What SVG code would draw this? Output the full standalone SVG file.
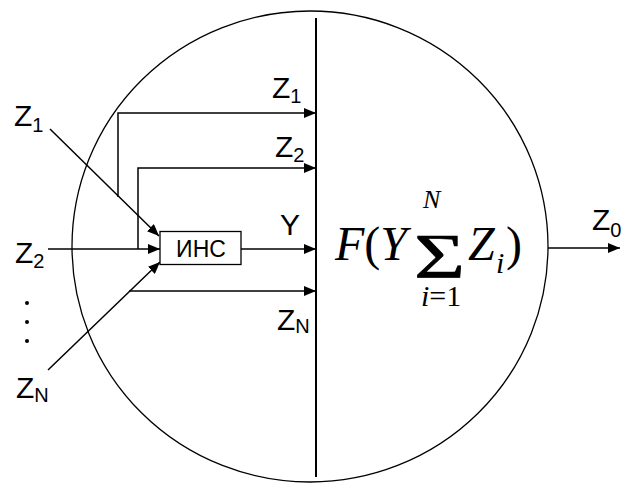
<svg xmlns="http://www.w3.org/2000/svg" width="624" height="484" viewBox="0 0 624 484">
<style>
.ln{fill:none;stroke:#000;stroke-width:1.5}
.lbl{font-family:"Liberation Sans",Arial,sans-serif;font-size:30px;fill:#000}
.sub{font-size:20px}
.math{font-family:"Liberation Serif","Times New Roman",serif;fill:#000}
</style>
<defs>
<marker id="ah" viewBox="0 0 12 10" refX="12" refY="5" markerWidth="12" markerHeight="10" markerUnits="userSpaceOnUse" orient="auto">
<path d="M0,0 L12,5 L0,10 Z" fill="#000"/>
</marker>
</defs>
<rect width="624" height="484" fill="#fff"/>
<g id="neuron">
<ellipse cx="310" cy="246.5" rx="238" ry="235.5" fill="none" stroke="#000" stroke-width="1.3"/>
<line x1="316" y1="18" x2="316" y2="477" stroke="#000" stroke-width="2"/>
</g>
<g id="connectors">
<path class="ln" d="M118,197 V113 H316" marker-end="url(#ah)"/>
<path class="ln" d="M138,249 V168 H316" marker-end="url(#ah)"/>
<path class="ln" d="M48,249 H160" marker-end="url(#ah)"/>
<path class="ln" d="M50,129 L159,236" marker-end="url(#ah)"/>
<path class="ln" d="M48,370 L160,262" marker-end="url(#ah)"/>
<path class="ln" d="M129,291 H316" marker-end="url(#ah)"/>
<path class="ln" d="M241,249 H316" marker-end="url(#ah)"/>
<path class="ln" d="M548,248 H620" marker-end="url(#ah)"/>
</g>
<g id="ins">
<rect x="160" y="231.5" width="81" height="33" fill="#fff" stroke="#000" stroke-width="1.3"/>
<text x="201" y="257" text-anchor="middle" class="lbl" style="font-size:23px">ИНС</text>
</g>
<g id="labels-in">
<text x="14" y="126" class="lbl">Z<tspan class="sub" dy="6">1</tspan></text>
<text x="15" y="263" class="lbl">Z<tspan class="sub" dy="5">2</tspan></text>
<text x="16" y="398" class="lbl">Z<tspan class="sub" dy="4">N</tspan></text>
<circle cx="27" cy="303" r="2" fill="#000"/>
<circle cx="27" cy="322" r="2" fill="#000"/>
<circle cx="27" cy="341" r="2" fill="#000"/>
</g>
<g id="labels-out">
<text x="272" y="98" class="lbl">Z<tspan class="sub" dy="5">1</tspan></text>
<text x="275" y="157" class="lbl">Z<tspan class="sub" dy="5">2</tspan></text>
<text x="280" y="235" class="lbl">Y</text>
<text x="277" y="330" class="lbl">Z<tspan class="sub" dy="3">N</tspan></text>
<text x="592" y="230" class="lbl">Z<tspan class="sub" dy="7">0</tspan></text>
</g>
<g id="formula" class="math">
<text x="335" y="260" font-size="48" font-style="italic">F<tspan font-style="normal">(</tspan>Y</text>
<text transform="translate(414,278) scale(1.37,1)" font-size="64" stroke="#000" stroke-width="0.6">Σ</text>
<text x="423" y="208" font-size="26" font-style="italic">N</text>
<text x="421" y="306" font-size="30"><tspan font-style="italic">i</tspan>=1</text>
<text x="468" y="260" font-size="48" font-style="italic">Z</text>
<text x="496" y="273" font-size="30" font-style="italic">i</text>
<text x="506" y="260" font-size="48">)</text>
</g>
</svg>
